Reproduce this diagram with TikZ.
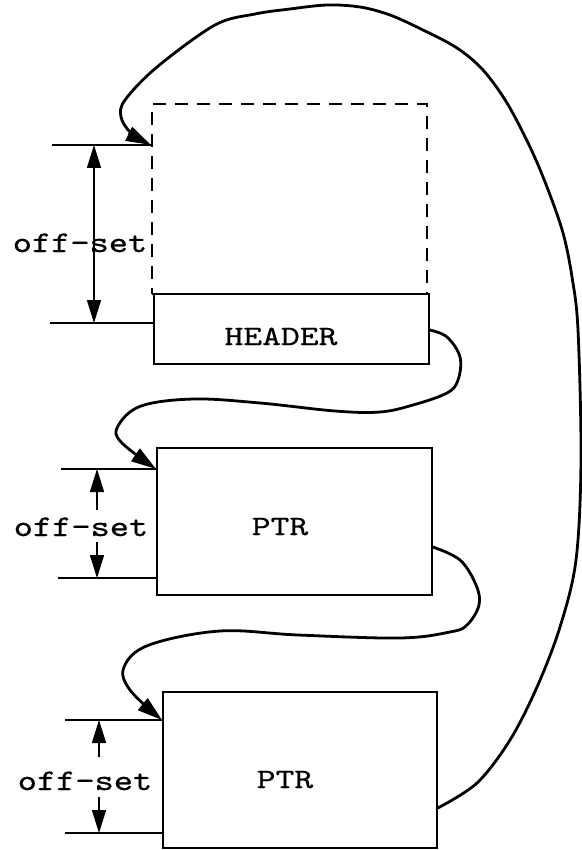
\documentclass[tikz,border=0pt]{standalone}
\usepackage{fontspec}
\usetikzlibrary{arrows.meta,calc}
% typewriter faces for the dimension labels and the block captions
\newfontfamily\offsetfont{lmmono10-regular.otf}[FakeStretch=1.22,FakeBold=0.6]
\newfontfamily\boxfont{lmmono10-regular.otf}[FakeStretch=1.28,FakeBold=0.6]

\begin{document}
\begin{tikzpicture}[x=1pt,y=-1pt,
  block/.style={draw, line width=1.8pt, inner sep=0pt, anchor=north west},
  ghostblock/.style={block, line width=1.6pt, dash pattern=on 13pt off 9pt},
  dimline/.style={line width=1.6pt},
  dimtip/.style={line width=1.6pt, -{Triangle[length=23pt,width=14pt]}},
  dimboth/.style={line width=1.6pt, {Triangle[length=23pt,width=14pt]}-{Triangle[length=23pt,width=14pt]}},
  link/.style={line width=2.8pt, line cap=round, line join=round, -{Triangle[length=25pt,width=15pt]}},
  boxlabel/.style={font=\boxfont\fontsize{28}{28}\selectfont, anchor=base, inner sep=0pt},
  dimlabel/.style={font=\offsetfont\fontsize{30}{30}\selectfont, anchor=base, inner sep=0pt}
]
\fill[white] (0,0) rectangle (581,850);
\useasboundingbox (0,0) rectangle (581,850);

% ---- blocks ----
\node[ghostblock, minimum width=275pt, minimum height=190pt] (ghost) at (151,103) {};
\node[block, minimum width=275pt, minimum height=70pt]  (header) at (153,293) {};
\node[block, minimum width=275pt, minimum height=147pt] (ptr1)   at (156,447) {};
\node[block, minimum width=274pt, minimum height=156pt] (ptr2)   at (162,691) {};

\node[boxlabel] (headertext) at (281,345) {HEADER};
\node[boxlabel] (ptrtext1)   at (280,535) {PTR};
\node[boxlabel] (ptrtext2)   at (285,788) {PTR};

% ---- first off-set (continuous dimension arrow) ----
\coordinate (o1top)    at (151,145);
\coordinate (o1topend) at (52,145);
\coordinate (o1bot)    at (153,323);
\coordinate (o1botend) at (50,323);
\coordinate (o1a) at (94,145);
\coordinate (o1b) at (94,323);
\draw[dimline] (o1top) -- (o1topend);
\draw[dimline] (o1bot) -- (o1botend);
\draw[dimboth] (o1a) -- (o1b);
\node[dimlabel] (off1) at (80,252) {off-set};

% ---- second off-set ----
\coordinate (o2top)    at (156,469);
\coordinate (o2topend) at (61,469);
\coordinate (o2bot)    at (156,578);
\coordinate (o2botend) at (58,578);
\coordinate (o2a) at (97,469);
\coordinate (o2ai) at (97,510);
\coordinate (o2bi) at (97,542);
\coordinate (o2b) at (97,578);
\draw[dimline] (o2top) -- (o2topend);
\draw[dimline] (o2bot) -- (o2botend);
\draw[dimtip] (o2ai) -- (o2a);
\draw[dimtip] (o2bi) -- (o2b);
\node[dimlabel] (off2) at (81,536) {off-set};

% ---- third off-set ----
\coordinate (o3top)    at (162,720);
\coordinate (o3topend) at (65,720);
\coordinate (o3bot)    at (162,833);
\coordinate (o3botend) at (65,833);
\coordinate (o3a) at (99,720);
\coordinate (o3ai) at (99,757);
\coordinate (o3bi) at (99,797);
\coordinate (o3b) at (99,833);
\draw[dimline] (o3top) -- (o3topend);
\draw[dimline] (o3bot) -- (o3botend);
\draw[dimtip] (o3ai) -- (o3a);
\draw[dimtip] (o3bi) -- (o3b);
\node[dimlabel] (off3) at (85,790) {off-set};

% ---- chain links ----
\coordinate (headerout) at ($(header.north east)+(0,37)$);
\coordinate (ptr1out)   at ($(ptr1.north east)+(0,100)$);
\coordinate (ptr2out)   at ($(ptr2.north east)+(0,117)$);

% HEADER -> first PTR
\draw[link] plot[smooth, tension=0.6] coordinates {
  (headerout) (447,337) (460,357) (458,380) (447,393) (413,405) (380,412)
  (335,411) (260,403) (194,399) (141,406) (118,426) (121,442) (o2top)};

% first PTR -> second PTR
\draw[link] plot[smooth, tension=0.6] coordinates {
  (ptr1out) (460,560) (476,585) (479,605) (467,625) (450,632) (400,638)
  (298,635) (220,631) (149,645) (124,667) (130,690) (o3top)};

% last PTR -> back to the start of the region
\draw[link] plot[smooth, tension=0.55] coordinates {
  (ptr2out) (477,783) (510,740) (537,687) (560,627) (576,560) (581,460)
  (578,330) (572,277) (563,233) (547,187) (530,147) (507,103) (483,70)
  (457,48) (423,30) (390,15) (360,7) (327,5) (290,9) (255,14)
  (215,25) (157,67) (125,100) (121,117) (131,133) (o1top)};
\end{tikzpicture}
\end{document}
